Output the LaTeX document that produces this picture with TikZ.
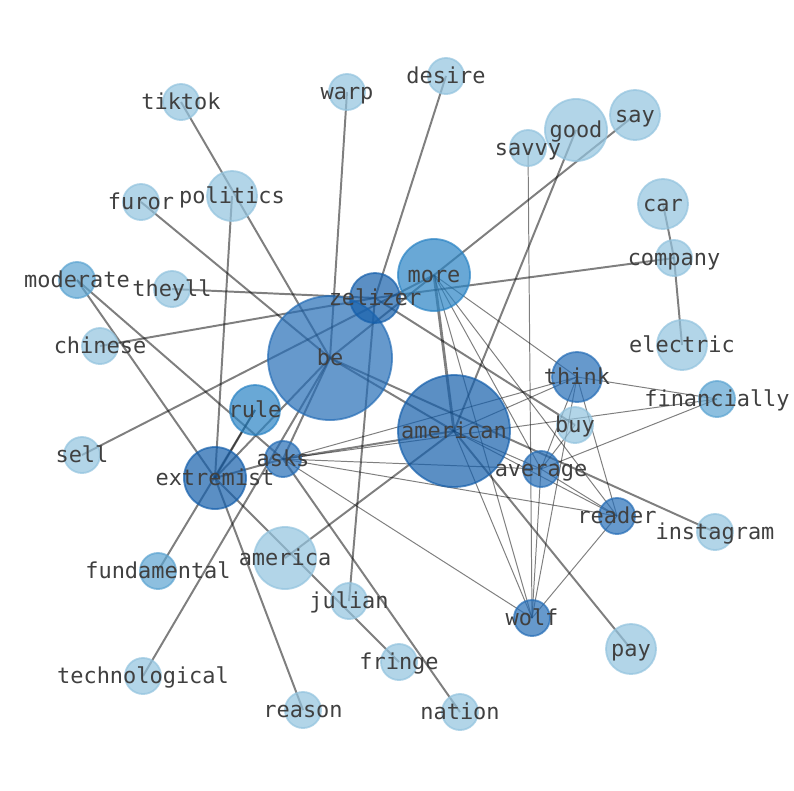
\documentclass[tikz,border=0pt]{standalone}
\usepackage{fontspec}
\newfontfamily\wordfont{DejaVu Sans Mono}
\usetikzlibrary{backgrounds}
\definecolor{wordA}{HTML}{155FAB}
\definecolor{wordB}{HTML}{256DB6}
\definecolor{wordC}{HTML}{2A83C4}
\definecolor{wordD}{HTML}{5CA4D1}
\definecolor{wordE}{HTML}{92C3DE}
\definecolor{tagtext}{HTML}{404040}
\begin{document}
\begin{tikzpicture}[x=0.025cm,y=-0.025cm,
		word/.style={circle,draw=#1,fill=#1,fill opacity=0.7,draw opacity=0.7,line width=1.3pt,inner sep=0pt},
		tag/.style={font=\wordfont\fontsize{15.6}{18}\selectfont,text=tagtext,inner sep=0pt,text height=0.76em,text depth=0.24em,yshift=-2.8pt},
		link/.style={draw=black,opacity=0.5,line width=1.4pt},
		weak/.style={draw=black,opacity=0.5,line width=0.7pt}]
	\useasboundingbox (0,0) rectangle (794,790);
	% words: name/x/y/radius/colour
	\foreach \n/\x/\y/\r/\c in {
		be/330/358/62/wordB, american/454/431/56/wordA, zelizer/375/298/25/wordA,
		more/434/275/36/wordC, think/577/377/25/wordB, buy/575/425/18/wordE,
		average/541/469/18/wordB, reader/617/516/18/wordB, wolf/532/618/18/wordB,
		asks/283/459/18/wordB, rule/255/410/25/wordC, extremist/215/478/31/wordA,
		fundamental/158/571/18/wordD, america/285/558/31/wordE, julian/349/601/18/wordE,
		fringe/399/662/18/wordE, nation/460/712/18/wordE, reason/303/710/18/wordE,
		technological/143/676/18/wordE, sell/82/455/18/wordE, chinese/100/346/18/wordE,
		moderate/77/280/18/wordD, theyll/172/289/18/wordE, furor/141/202/18/wordE,
		politics/232/196/25/wordE, tiktok/181/102/18/wordE, warp/347/92/18/wordE,
		desire/446/76/18/wordE, savvy/528/148/18/wordE, good/576/130/31/wordE,
		say/635/115/25/wordE, car/663/204/25/wordE, company/674/258/18/wordE,
		electric/682/345/25/wordE, financially/717/399/18/wordD,
		instagram/715/532/18/wordE, pay/631/649/25/wordE}{
		\node[word=\c,minimum size=\r*0.5mm] (\n) at (\x,\y) {};
	}
	\begin{pgfonlayer}{background}
		% strong links
		\foreach \a/\b in {be/tiktok,be/warp,be/furor,be/technological,be/instagram,
			be/say,be/american,be/asks,be/extremist,zelizer/desire,zelizer/theyll,
			zelizer/chinese,zelizer/company,zelizer/julian,zelizer/buy,more/sell,
			extremist/politics,extremist/moderate,extremist/reason,extremist/fringe,
			extremist/rule,extremist/asks,rule/fundamental,asks/moderate,asks/nation,
			asks/american,american/good,american/america,american/pay,company/car,
			company/electric}{
			\draw[link] (\a.center)--(\b.center);
		}
		\draw[link,line width=2pt] (american.center)--(more.center);
		% weak links
		\foreach \a/\b in {asks/think,asks/average,asks/reader,asks/wolf,asks/financially,
			american/think,american/average,american/reader,american/wolf,
			more/think,more/average,more/reader,more/wolf,
			think/average,think/reader,think/wolf,think/financially,
			average/financially,average/reader,average/wolf,average/buy,
			reader/wolf,savvy/wolf}{
			\draw[weak] (\a.center)--(\b.center);
		}
	\end{pgfonlayer}
	% labels on top
	\foreach \n in {be,american,zelizer,more,think,buy,average,reader,wolf,asks,rule,
		extremist,fundamental,america,julian,fringe,nation,reason,technological,sell,
		chinese,moderate,theyll,furor,politics,tiktok,warp,desire,savvy,good,say,car,
		company,electric,financially,instagram,pay}{
		\node[tag] (\n-tag) at (\n) {\n};
	}
\end{tikzpicture}
\end{document}
